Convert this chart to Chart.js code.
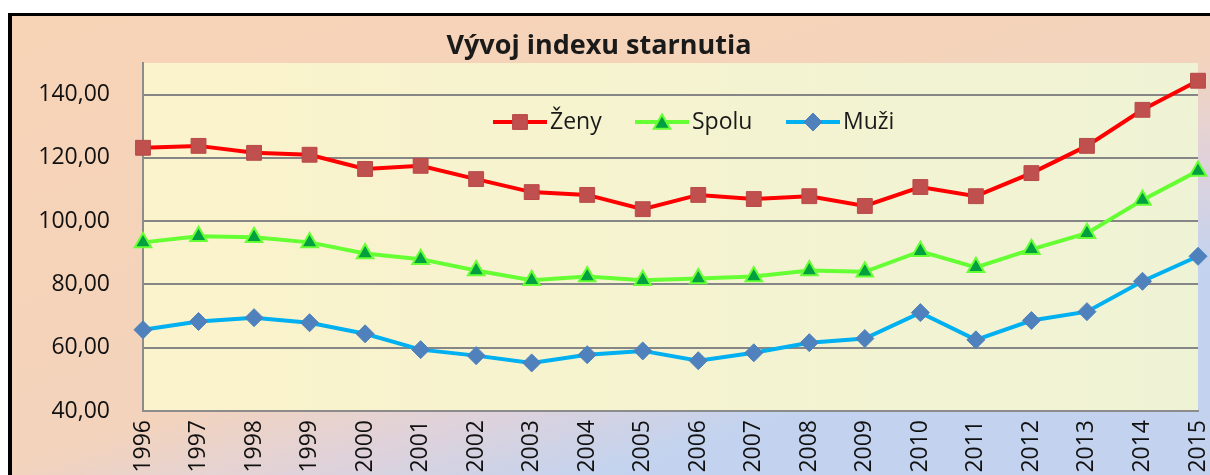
<!DOCTYPE html>
<html>
<head>
<meta charset="utf-8">
<script src="https://cdn.jsdelivr.net/npm/chart.js@4/dist/chart.umd.min.js"></script>
<style>
html,body{margin:0;padding:0;background:#fff;}
#wrap{width:1210px;height:475px;position:relative;}
</style>
</head>
<body>
<div id="wrap"><canvas id="c" width="1210" height="475"></canvas></div>
<script>
const years = ['1996','1997','1998','1999','2000','2001','2002','2003','2004','2005','2006','2007','2008','2009','2010','2011','2012','2013','2014','2015'];
const zeny  = [123.2,123.8,121.6,121.0,116.5,117.5,113.3,109.2,108.3,103.8,108.3,107.0,107.9,104.8,110.8,107.9,115.2,123.8,135.2,144.4];
const spolu = [93.3,95.2,94.9,93.3,89.8,88.0,84.4,81.3,82.5,81.3,81.9,82.5,84.4,84.0,90.5,85.4,91.1,96.2,106.7,115.9];
const muzi  = [65.7,68.3,69.5,67.9,64.4,59.4,57.5,55.2,57.8,59.0,55.9,58.4,61.6,62.9,71.1,62.5,68.6,71.4,81.0,88.9];
const seriesNames = ['Ženy','Spolu','Muži'];
const yTicks = [40,60,80,100,120,140];
const titleText = 'Vývoj indexu starnutia';

const FONT = "'Open Sans', 'DejaVu Sans', sans-serif";

const bgPlugin = {
  id: 'bg',
  beforeDraw(chart) {
    const ctx = chart.ctx, W = chart.width, H = chart.height, a = chart.chartArea;
    ctx.save();
    ctx.fillStyle = '#ffffff';
    ctx.fillRect(0, 0, W, H);
    const g = ctx.createLinearGradient(0, 0, 215, 620);
    g.addColorStop(0, '#f8d4b6');
    g.addColorStop(0.68, '#f3d3bc');
    g.addColorStop(0.83, '#e0d2da');
    g.addColorStop(0.98, '#c4d3ee');
    g.addColorStop(1, '#c3d3ef');
    ctx.fillStyle = g;
    ctx.fillRect(12, 16, W - 12, H - 16);
    ctx.fillStyle = '#000';
    ctx.fillRect(8, 13, W - 8, 3);
    ctx.fillRect(8, 13, 4, H - 13);
    const pg = ctx.createLinearGradient(a.left, 0, a.right, 0);
    pg.addColorStop(0, '#fbf3cb');
    pg.addColorStop(1, '#eff3d5');
    ctx.fillStyle = pg;
    ctx.fillRect(a.left, a.top, a.right - a.left, a.bottom - a.top);
    ctx.restore();
  }
};

const legendPlugin = {
  id: 'inlegend',
  afterDatasetsDraw(chart) {
    const ctx = chart.ctx;
    const y = 122;
    const starts = [493, 635, 786];
    ctx.save();
    chart.data.datasets.forEach((ds, i) => {
      const x0 = starts[i];
      ctx.strokeStyle = ds.borderColor;
      ctx.lineWidth = 4;
      ctx.beginPath();
      ctx.moveTo(x0, y);
      ctx.lineTo(x0 + 54, y);
      ctx.stroke();
      ctx.fillStyle = ds.pointBackgroundColor;
      ctx.strokeStyle = ds.pointBorderColor;
      ctx.lineWidth = ds.pointBorderWidth;
      Chart.helpers.drawPoint(ctx, {
        pointStyle: ds.pointStyle,
        radius: ds.pointRadius,
        borderWidth: ds.pointBorderWidth,
        rotation: 0
      }, x0 + 27, y + (ds.pointStyle === 'triangle' ? 2 : 0));
      ctx.fillStyle = '#1a1a1a';
      ctx.font = "23px " + FONT;
      ctx.textBaseline = 'middle';
      ctx.textAlign = 'left';
      ctx.fillText(ds.label, x0 + 57, y);
    });
    ctx.restore();
  }
};

new Chart(document.getElementById('c'), {
  type: 'line',
  data: {
    labels: years,
    datasets: [
      {
        label: seriesNames[0], data: zeny,
        borderColor: '#ff0000', borderWidth: 4,
        pointStyle: 'rect', pointRadius: 10.5,
        pointBackgroundColor: '#c0504d', pointBorderColor: '#b8494a', pointBorderWidth: 1,
        tension: 0
      },
      {
        label: seriesNames[1], data: spolu,
        borderColor: '#66ff33', borderWidth: 4,
        pointStyle: 'triangle', pointRadius: 9.5,
        pointBackgroundColor: '#00a040', pointBorderColor: '#66ff33', pointBorderWidth: 2,
        tension: 0
      },
      {
        label: seriesNames[2], data: muzi,
        borderColor: '#00b0f0', borderWidth: 4,
        pointStyle: 'rectRot', pointRadius: 9,
        pointBackgroundColor: '#4f81bd', pointBorderColor: '#4f81bd', pointBorderWidth: 1,
        tension: 0
      }
    ]
  },
  options: {
    responsive: false,
    animation: false,
    events: [],
    layout: { padding: { top: 16, left: 0, right: 12, bottom: 0 } },
    plugins: {
      legend: { display: false },
      tooltip: { enabled: false },
      title: {
        display: true, text: titleText, color: '#1a1a1a',
        font: { family: FONT, size: 27, weight: 'bold', lineHeight: 1.2 },
        padding: { top: 14, bottom: 0.6 }
      }
    },
    scales: {
      x: {
        type: 'category',
        offset: false,
        grid: { display: false, drawTicks: false },
        border: { display: true, color: '#8c8c8c', width: 2 },
        ticks: {
          minRotation: 90, maxRotation: 90, autoSkip: false,
          padding: 9, color: '#111',
          font: { family: FONT, size: 23 }
        },
        afterFit(scale) { scale.height = 64; scale.paddingLeft = 0; scale.paddingRight = 0; }
      },
      y: {
        min: 40, max: 150,
        afterBuildTicks(scale) { scale.ticks = yTicks.map(v => ({ value: v })); },
        grid: { color: '#868686', lineWidth: 2, drawTicks: false },
        border: { display: true, color: '#8c8c8c', width: 2 },
        ticks: {
          padding: 33, color: '#111',
          font: { family: FONT, size: 23 },
          callback: v => v.toFixed(2).replace('.', ',')
        },
        afterFit(scale) { scale.width = 143; }
      }
    }
  },
  plugins: [bgPlugin, legendPlugin]
});
</script>
</body>
</html>
